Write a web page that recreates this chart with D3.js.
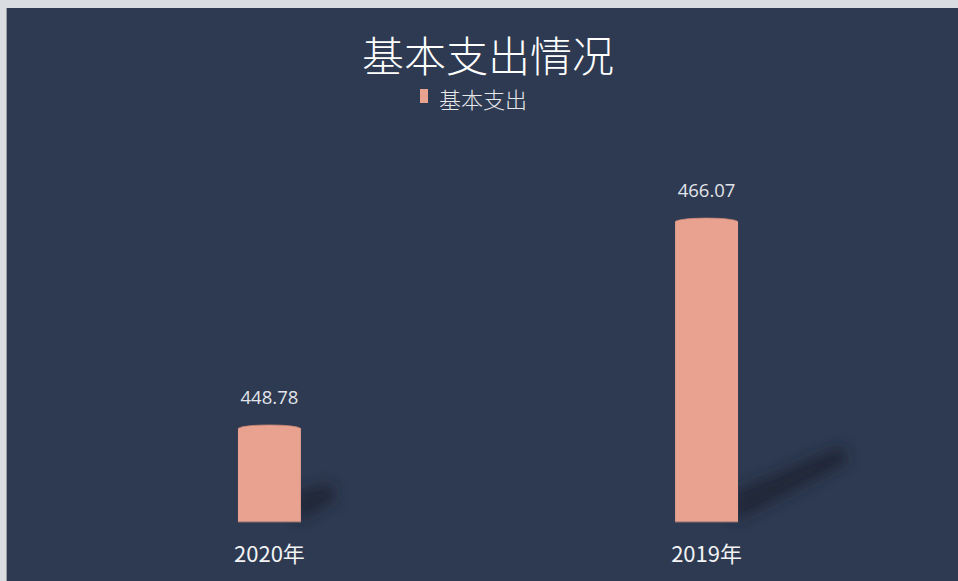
<!DOCTYPE html>
<html>
<head>
<meta charset="utf-8">
<script src="https://cdn.jsdelivr.net/npm/d3@7"></script>
<style>
  html, body { margin: 0; padding: 0; background: #d9dde2; }
  svg { display: block; }
</style>
</head>
<body>
<svg width="958" height="581"></svg>
<script>
const categories = ['2020年', '2019年'];
const values = [448.78, 466.07];
const seriesName = '基本支出';
const title = '基本支出情况';

const width = 958, height = 581;
const svg = d3.select('svg');
const font = '"Noto Sans CJK SC", "Open Sans", sans-serif';
const numFont = '"Open Sans", "Noto Sans", sans-serif';

// panel
svg.append('rect').attr('x', 6).attr('y', 8).attr('width', width - 6).attr('height', height - 8)
  .attr('fill', '#2e3a51');
svg.append('line').attr('x1', 6.5).attr('x2', 6.5).attr('y1', 8).attr('y2', height)
  .attr('stroke', '#9aa0a8').attr('stroke-width', 1);

const x = d3.scaleBand().domain(categories).range([50, 926]).paddingInner(0.856).paddingOuter(0.43);
const y = d3.scaleLinear().domain([441, 470]).range([522, 175]);
const capRy = 4;

const defs = svg.append('defs');
defs.append('filter').attr('id', 'blur').attr('x', '-50%').attr('y', '-50%').attr('width', '200%').attr('height', '200%')
  .append('feGaussianBlur').attr('stdDeviation', 7);

const data = categories.map((c, i) => ({cat: c, v: values[i]}));
const barColor = '#e9a28f';

// shadows
svg.append('g').selectAll('path').data(data).enter().append('path')
  .attr('d', d => {
    const x0 = x(d.cat) + x.bandwidth() - 4;
    const b = y.range()[0];
    const h = b - y(d.v);
    const dx = h * 0.36, dy = h * 0.18;
    return `M${x0},${b} L${x0},${b - 30} L${x0 + dx},${b - dy - 22} L${x0 + dx + 6},${b - dy - 6} Z`;
  })
  .attr('fill', '#1b2333').attr('opacity', 0.8).attr('filter', 'url(#blur)');

// bars (cylinders)
const bars = svg.append('g').selectAll('g').data(data).enter().append('g');
bars.append('rect')
  .attr('x', d => x(d.cat))
  .attr('y', d => y(d.v))
  .attr('width', x.bandwidth())
  .attr('height', d => y.range()[0] - y(d.v))
  .attr('fill', barColor);
bars.append('ellipse')
  .attr('cx', d => x(d.cat) + x.bandwidth() / 2)
  .attr('cy', d => y(d.v))
  .attr('rx', x.bandwidth() / 2)
  .attr('ry', capRy)
  .attr('fill', barColor);
bars.append('path')
  .attr('d', d => {
    const x0 = x(d.cat), x1 = x0 + x.bandwidth(), yy = y(d.v);
    return `M${x0},${yy} A${x.bandwidth() / 2},${capRy} 0 0 1 ${x1},${yy}`;
  })
  .attr('fill', 'none').attr('stroke', '#c98574').attr('stroke-width', 0.7);
bars.append('line')
  .attr('x1', d => x(d.cat)).attr('x2', d => x(d.cat) + x.bandwidth())
  .attr('y1', y.range()[0]).attr('y2', y.range()[0])
  .attr('stroke', '#8a6f6c').attr('stroke-width', 1);

// value labels
bars.append('text')
  .attr('x', d => x(d.cat) + x.bandwidth() / 2)
  .attr('y', d => y(d.v) - 25)
  .attr('text-anchor', 'middle')
  .attr('font-family', numFont).attr('font-size', 18.5)
  .attr('fill', '#e1e4ea')
  .text(d => d.v.toFixed(2));

// category labels
svg.append('g').selectAll('text').data(categories).enter().append('text')
  .attr('x', d => x(d) + x.bandwidth() / 2)
  .attr('y', 562)
  .attr('text-anchor', 'middle')
  .attr('font-family', font).attr('font-size', 22)
  .attr('fill', '#f2f3f5')
  .text(d => d);

// title
svg.append('text').attr('x', 488).attr('y', 72).attr('text-anchor', 'middle')
  .attr('font-family', font).attr('font-size', 42).attr('font-weight', 300).attr('fill', '#ffffff')
  .text(title);

// legend
svg.append('rect').attr('x', 420).attr('y', 89).attr('width', 8).attr('height', 14).attr('fill', barColor);
svg.append('text').attr('x', 439).attr('y', 108)
  .attr('font-family', font).attr('font-size', 22).attr('font-weight', 300).attr('fill', '#e6e8ec')
  .text(seriesName);
</script>
</body>
</html>
